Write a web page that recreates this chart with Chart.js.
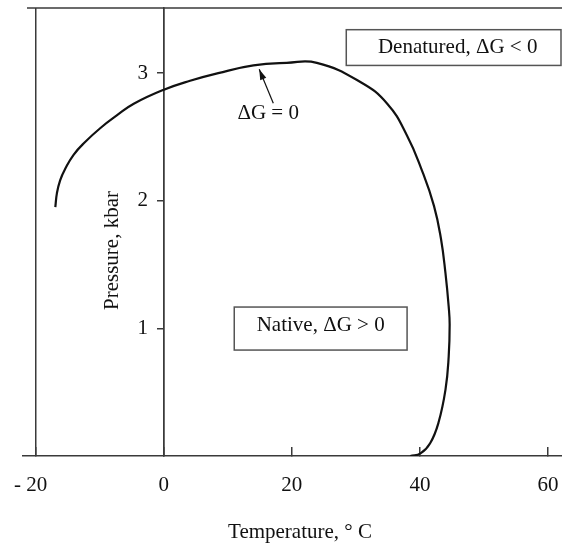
<!DOCTYPE html>
<html>
<head>
<meta charset="utf-8">
<script src="https://cdn.jsdelivr.net/npm/chart.js@4.4.0/dist/chart.umd.min.js"></script>
<style>
  html, body { margin: 0; padding: 0; background: #fff; }
  #wrap { width: 562px; height: 544px; }
</style>
</head>
<body>
<div id="wrap"><canvas id="grafico"></canvas></div>
<script>
// curva ΔG = 0, em ordem ao longo da curva
const temperatura = [-16.95, -16.7, -16.2, -15.4, -14.1, -12.3, -9.9, -7.3, -4.7, 0, 4.1, 8.5, 14.0, 19.2, 23.9, 30.7, 34.9, 38.0, 40.3, 42.2, 43.3, 44.0, 44.5, 44.65, 44.5, 44.0, 42.9, 41.6, 40.1, 38.5];
const pressao     = [1.95, 2.06, 2.16, 2.25, 2.36, 2.46, 2.57, 2.67, 2.76, 2.87, 2.94, 3.00, 3.06, 3.08, 3.08, 2.93, 2.76, 2.51, 2.24, 1.96, 1.70, 1.43, 1.17, 1.03, 0.78, 0.52, 0.26, 0.10, 0.02, 0.0];

const ticksX = [-20, 0, 20, 40, 60];
const rotulosX = ["- 20  ", "0", "20", "40", "60"];
const ticksY = [1, 2, 3];
const rotulosY = ["1   ", "2   ", "3   "];

const tituloX = "Temperature, ° C";
const tituloY = "Pressure, kbar";
const textoDesnat = "Denatured, ΔG < 0";
const textoNativo = "Native, ΔG > 0";
const textoCurva = "ΔG = 0";

const fonte = "Liberation Serif, Times New Roman, serif";
const corEixo = "#3a3a3a";

// caixas, textos e títulos desenhados por cima
const anotacoes = {
  id: "anotacoes",
  afterDraw(chart) {
    const { ctx, chartArea, scales: { x, y } } = chart;
    ctx.save();

    // linha de cima
    ctx.strokeStyle = corEixo;
    ctx.lineWidth = 1.5;
    ctx.beginPath();
    ctx.moveTo(chartArea.left + 4, chartArea.top);
    ctx.lineTo(chartArea.right, chartArea.top);
    ctx.stroke();

    ctx.font = "21px " + fonte;
    ctx.fillStyle = "#111";
    ctx.textAlign = "center";
    ctx.textBaseline = "middle";

    // caixa "Denatured"
    ctx.strokeStyle = "#555";
    ctx.lineWidth = 1.5;
    const d0 = x.getPixelForValue(28.5), d1 = chartArea.right - 1;
    const dt = y.getPixelForValue(3.34), db = y.getPixelForValue(3.06);
    ctx.strokeRect(d0, dt, d1 - d0, db - dt);
    ctx.fillText(textoDesnat, x.getPixelForValue(45.9), y.getPixelForValue(3.20));

    // caixa "Native"
    const n0 = x.getPixelForValue(11.0), n1 = x.getPixelForValue(38.0);
    const nt = y.getPixelForValue(1.167), nb = y.getPixelForValue(0.83);
    ctx.strokeRect(n0, nt, n1 - n0, nb - nt);
    ctx.fillText(textoNativo, x.getPixelForValue(24.5), y.getPixelForValue(1.026));

    // ΔG = 0 com seta
    ctx.fillText(textoCurva, x.getPixelForValue(16.3), y.getPixelForValue(2.686));
    const ax = x.getPixelForValue(17.1), ay = y.getPixelForValue(2.764);
    const bx = x.getPixelForValue(14.9), by = y.getPixelForValue(3.03);
    ctx.strokeStyle = "#111";
    ctx.lineWidth = 1.2;
    ctx.beginPath();
    ctx.moveTo(ax, ay);
    ctx.lineTo(bx, by);
    ctx.stroke();
    const ang = Math.atan2(by - ay, bx - ax);
    ctx.beginPath();
    ctx.moveTo(bx, by);
    ctx.lineTo(bx - 11 * Math.cos(ang - 0.3), by - 11 * Math.sin(ang - 0.3));
    ctx.lineTo(bx - 11 * Math.cos(ang + 0.3), by - 11 * Math.sin(ang + 0.3));
    ctx.closePath();
    ctx.fill();

    // títulos dos eixos
    ctx.fillText(tituloX, 300, 532);
    ctx.translate(x.getPixelForValue(-8.05), y.getPixelForValue(1.61));
    ctx.rotate(-Math.PI / 2);
    ctx.fillText(tituloY, 0, 0);

    ctx.restore();
  }
};

const ctx = document.getElementById("grafico").getContext("2d");
const grafico = new Chart(ctx, {
  type: "scatter",
  data: {
    datasets: [{
      label: "ΔG = 0",
      data: temperatura.map((t, i) => ({ x: t, y: pressao[i] })),
      showLine: true,
      borderColor: "#111",
      borderWidth: 2.2,
      pointRadius: 0,
      tension: 0.45,
      cubicInterpolationMode: "default",
      fill: false
    }]
  },
  options: {
    responsive: true,
    maintainAspectRatio: false,
    animation: false,
    elements: { line: { tension: 0.45, capBezierPoints: false } },
    layout: { padding: { left: 23, right: 0, top: 8, bottom: 0 } },
    plugins: { legend: { display: false }, tooltip: { enabled: false } },
    scales: {
      x: {
        type: "linear",
        position: "bottom",
        min: -22,
        max: 62.2,
        afterBuildTicks: s => { s.ticks = ticksX.map(v => ({ value: v })); },
        afterFit: s => { s.paddingLeft = 0; s.paddingRight = 0; s.height = 88; },
        ticks: {
          callback: v => rotulosX[ticksX.indexOf(v)],
          font: { family: fonte, size: 21 },
          color: "#111",
          padding: 26,
          maxRotation: 0
        },
        grid: {
          color: c => (c.tick && (c.tick.value === -20 || c.tick.value === 0)) ? corEixo : "rgba(0,0,0,0)",
          tickColor: corEixo,
          lineWidth: 1.5,
          tickLength: -9
        },
        border: { display: true, color: corEixo, width: 1.5 }
      },
      y: {
        type: "linear",
        position: { x: 0 },
        min: 0,
        max: 3.51,
        afterBuildTicks: s => { s.ticks = ticksY.map(v => ({ value: v })); },
        afterFit: s => { s.paddingTop = 0; s.paddingBottom = 0; },
        ticks: {
          callback: v => rotulosY[ticksY.indexOf(v)],
          font: { family: fonte, size: 21 },
          color: "#111"
        },
        grid: {
          drawOnChartArea: false,
          tickColor: corEixo,
          lineWidth: 1.5,
          tickLength: 6
        },
        border: { display: true, color: corEixo, width: 1.5 }
      }
    }
  },
  plugins: [anotacoes]
});
</script>
</body>
</html>
